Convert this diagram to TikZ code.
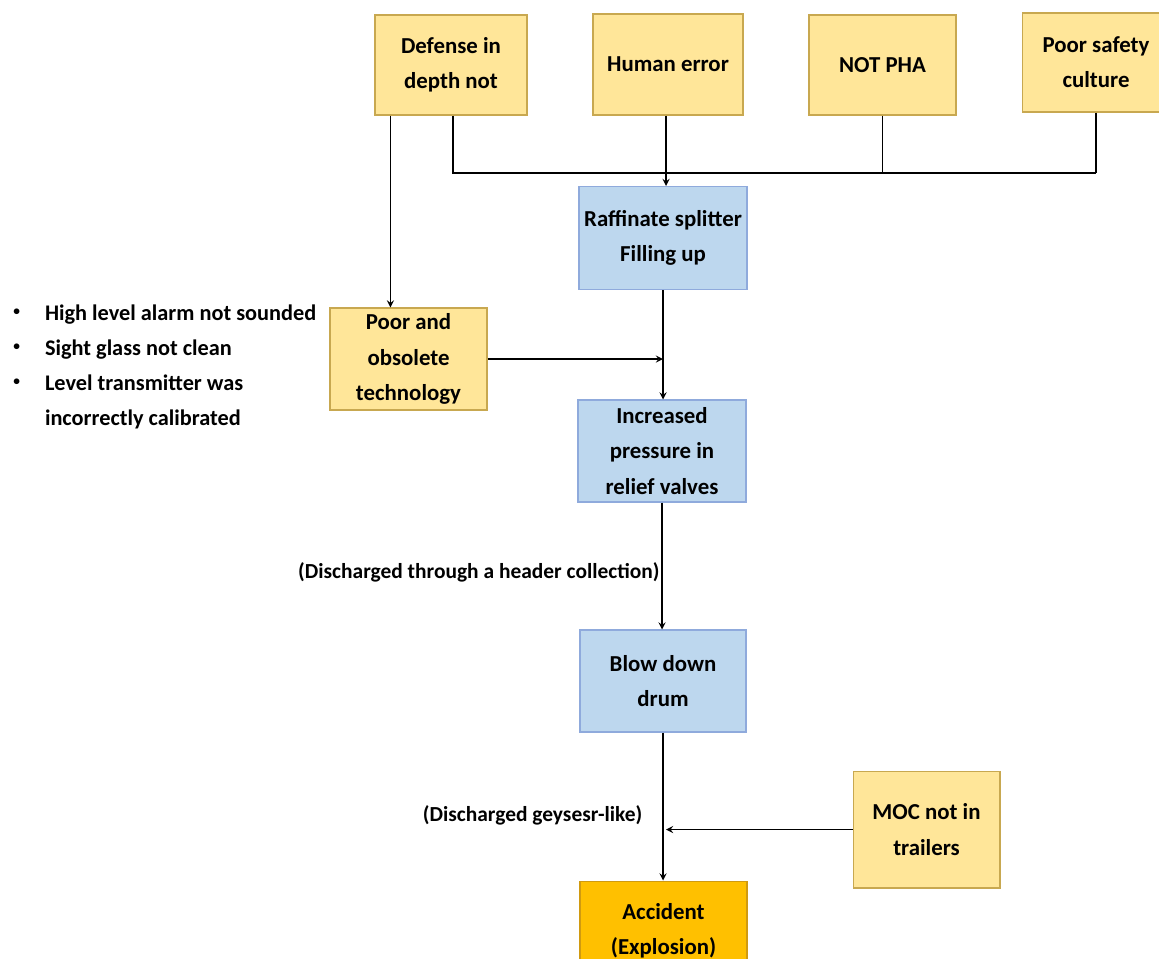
\documentclass[tikz,border=0pt]{standalone}
\usepackage{fontspec}
\setmainfont{Carlito}
\usepackage{xcolor}
\usetikzlibrary{shapes,arrows,positioning}
\definecolor{causefill}{HTML}{FFE699}
\definecolor{causedraw}{HTML}{C8A850}
\definecolor{eventfill}{HTML}{BDD7EE}
\definecolor{eventdraw}{HTML}{8FAADC}
\definecolor{accfill}{HTML}{FFC000}
\definecolor{accdraw}{HTML}{D09A10}
\newcommand{\smallbullet}{\raisebox{0.2em}{\scalebox{0.6}{\textbullet}}}
\tikzstyle{arrow} = [line width=0.8pt,->,>=stealth]
\tikzstyle{link} = [line width=0.8pt]
\tikzstyle{cause} = [draw=causedraw,fill=causefill,line width=0.6pt,align=center,inner sep=1pt,font=\fontsize{13}{20}\selectfont\bfseries]
\tikzstyle{event} = [cause,draw=eventdraw,fill=eventfill]
\tikzstyle{accident} = [cause,draw=accdraw,fill=accfill]
\tikzstyle{note} = [inner sep=0pt,font=\fontsize{12.7}{20}\selectfont\bfseries]
\tikzstyle{flowlabel} = [inner sep=0pt,font=\fontsize{12.2}{20}\selectfont\bfseries]

\begin{document}
\begin{tikzpicture}[x=0.02cm,y=-0.02cm]
\clip (0,0) rectangle (1159,958);
% root causes
\node[cause,minimum width=3.04cm,minimum height=2cm] (defense) at (451,65) {Defense in\\depth not};
\node[cause,minimum width=3cm,minimum height=2.02cm] (human) at (668,64.5) {Human error};
\node[cause,minimum width=2.94cm,minimum height=2cm] (notpha) at (882.5,65) {NOT PHA};
\node[cause,minimum width=2.96cm,minimum height=1.98cm] (safety) at (1096,62.5) {Poor safety\\culture};
% main chain
\node[event,minimum width=3.36cm,minimum height=2.06cm] (raffinate) at (663,238) {Raffinate splitter\\Filling up};
\node[cause,minimum width=3.14cm,minimum height=2.04cm] (obsolete) at (408.5,359) {Poor and\\obsolete\\technology};
\node[event,minimum width=3.36cm,minimum height=2.04cm] (pressure) at (662,451) {Increased\\pressure in\\relief valves};
\node[event,minimum width=3.32cm,minimum height=2.04cm] (blowdown) at (663,681) {Blow down\\drum};
\node[cause,minimum width=2.94cm,minimum height=2.34cm] (moc) at (926.5,829.5) {MOC not in\\trailers};
\node[accident,minimum width=3.34cm,minimum height=2cm] (accident) at (663.5,931) {Accident\\(Explosion)};
% bullet list
\node[note,anchor=base west] (failures) at (13,320) {\begin{tabular}[t]{@{}l@{\hspace{0.5cm}}l@{}}
\smallbullet & High level alarm not sounded\\
\smallbullet & Sight glass not clean\\
\smallbullet & Level transmitter was\\
 & incorrectly calibrated
\end{tabular}};

% connectors
\coordinate (busL) at (453,173);
\coordinate (busR) at (1096,173);
\draw[link] (defense.south -| busL) -- (busL) -- (busR);
\draw[link] (notpha.south) -- (notpha.south |- busL);
\draw[link] (safety.south) -- (busR);
\draw[arrow] ([xshift=-0.04cm]human.south) -- ([xshift=-0.04cm]human.south |- raffinate.north);
\draw[arrow] ([xshift=0.32cm]defense.south west) -- ([xshift=0.32cm]defense.south west |- obsolete.north);
\draw[arrow] (raffinate.south) -- (raffinate.south |- pressure.north);
\draw[arrow] (obsolete.east) -- (obsolete.east -| raffinate.south);
\draw[arrow] (pressure.south) -- node[flowlabel,pos=0.55,left=1pt] {(Discharged through a header collection)} (pressure.south |- blowdown.north);
\draw[arrow] (blowdown.south) -- node[flowlabel,pos=0.56,left=0.4cm] {(Discharged geysesr-like)} (blowdown.south |- accident.north);
\draw[arrow] (moc.west) -- ([xshift=0.06cm]moc.west -| blowdown.south);
\end{tikzpicture}
\end{document}
